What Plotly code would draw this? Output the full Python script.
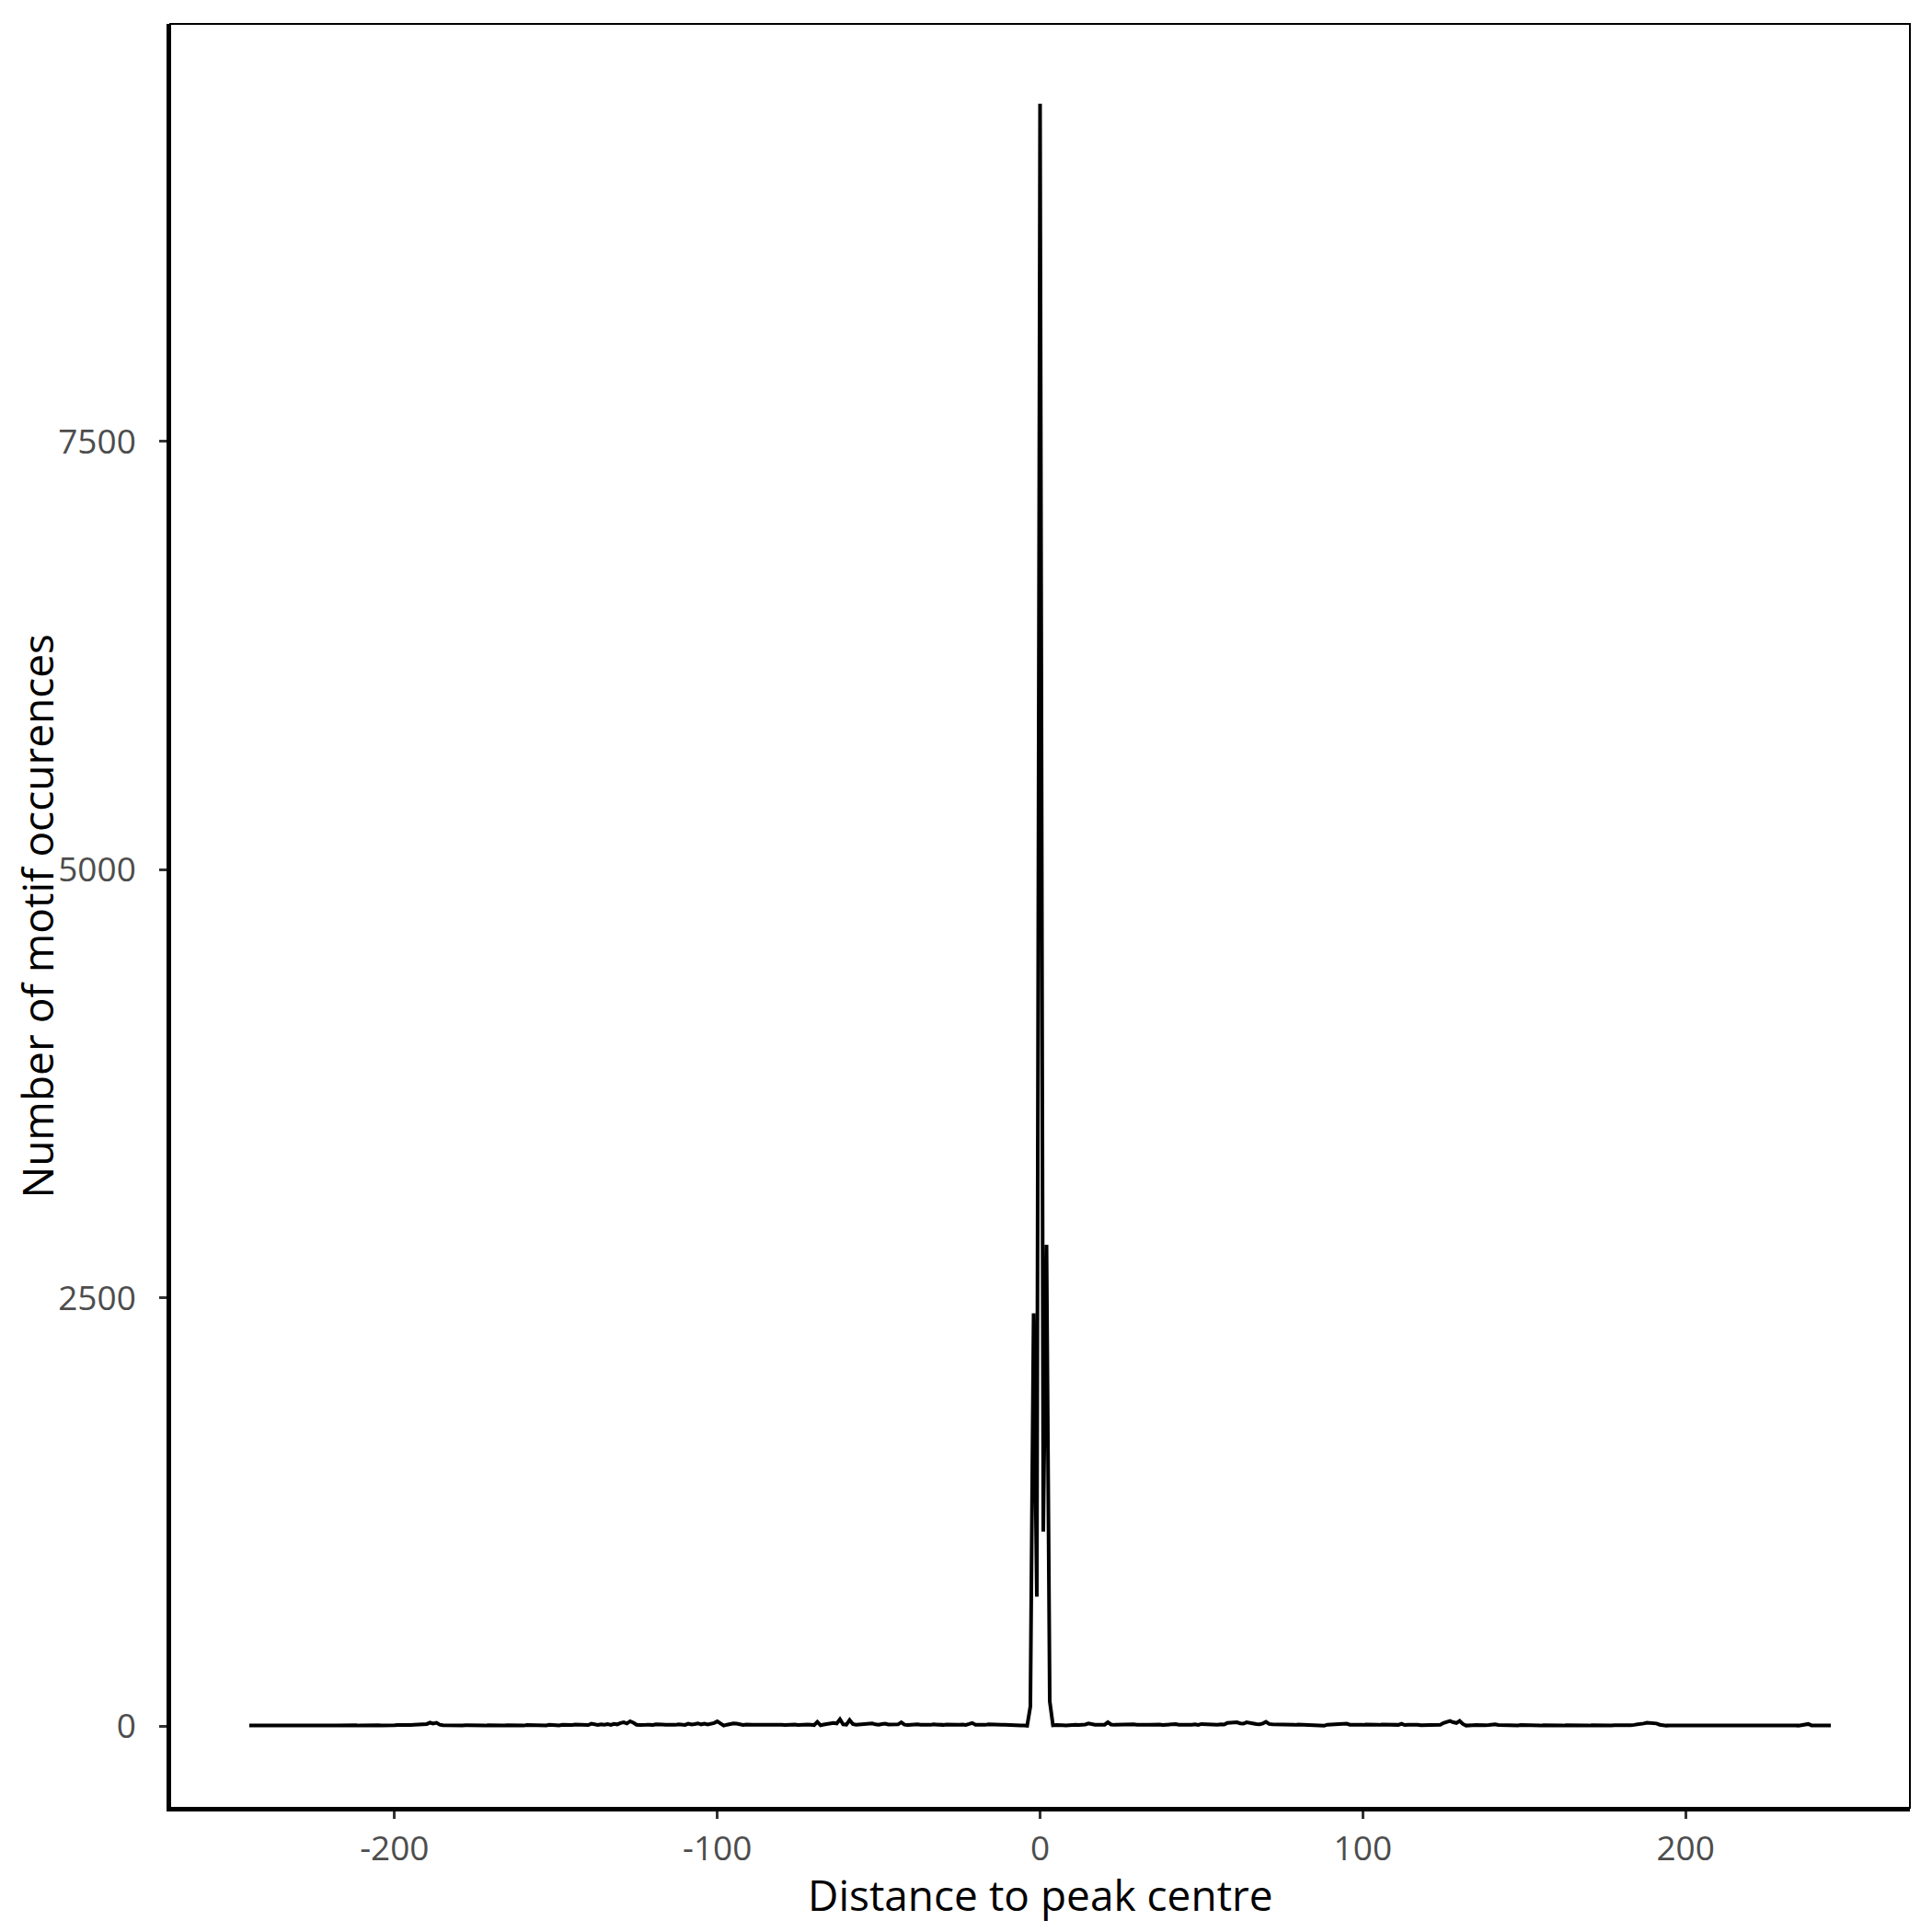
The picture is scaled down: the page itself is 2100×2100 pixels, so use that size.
import plotly.graph_objects as go

# Distance to peak centre (bp)
distance_start = -245
distance_end = 245

# Motif occurrences, left flank: distances -245 .. -6
left_flank = [
    4, 3, 4, 3, 3, 4, 3, 4, 3, 3,
    4, 3, 3, 4, 3, 4, 3, 3, 4, 3,
    4, 3, 4, 3, 3, 4, 3, 4, 5, 3,
    4, 3, 4, 5, 3, 4, 3, 5, 4, 3,
    5, 4, 3, 5, 4, 5, 6, 5, 4, 6,
    6, 7, 8, 7, 9, 12, 20, 15, 19, 8,
    5, 4, 5, 4, 5, 4, 4, 5, 4, 5,
    4, 5, 4, 3, 5, 4, 4, 5, 3, 4,
    5, 4, 6, 4, 5, 3, 6, 5, 4, 6,
    7, 5, 4, 8, 5, 6, 4, 7, 6, 8,
    6, 9, 7, 5, 8, 6, 14, 9, 6, 10,
    8, 12, 7, 13, 10, 18, 22, 15, 28, 20,
    8, 6, 9, 7, 8, 6, 10, 7, 9, 8,
    6, 9, 7, 10, 8, 7, 14, 9, 12, 16,
    10, 14, 9, 12, 18, 27, 12, 3, 8, 12,
    15, 14, 8, 7, 9, 6, 8, 7, 9, 8,
    7, 8, 6, 9, 7, 8, 6, 8, 7, 9,
    6, 8, 7, 9, 8, 6, 25, 5, 9, 12,
    14, 18, 15, 40, 10, 8, 35, 12, 8, 10,
    12, 9, 11, 15, 10, 8, 12, 14, 9, 11,
    13, 10, 22, 8, 6, 9, 7, 10, 8, 6,
    9, 7, 10, 8, 11, 7, 9, 8, 6, 10,
    8, 9, 7, 12, 18, 8, 6, 9, 7, 10,
    8, 6, 9, 7, 8, 6, 7, 5, 4, 3,
]

# Motif occurrences, centre: distances -5 .. 3
centre = [3, 2, 115, 2410, 755, 9470, 1135, 2810, 145]

# Motif occurrences, right flank: distances 4 .. 245
right_flank = [
    4, 6, 3, 5, 4, 7,
    5, 8, 6, 7, 9, 15, 10, 8, 7, 9,
    8, 22, 9, 7, 8, 6, 9, 8, 7, 10,
    8, 6, 9, 7, 8, 10, 7, 9, 6, 8,
    7, 9, 12, 8, 7, 9, 6, 8, 10, 7,
    12, 11, 8, 7, 9, 8, 10, 9, 18, 20,
    19, 22, 16, 14, 22, 18, 13, 12, 11, 15,
    25, 12, 10, 9, 8, 10, 7, 9, 8, 7,
    9, 8, 7, 9, 6, 8, 7, 6, 2, 8,
    9, 7, 10, 9, 12, 14, 8, 7, 9, 8,
    7, 9, 8, 6, 8, 7, 9, 8, 7, 6,
    8, 7, 14, 6, 7, 8, 6, 7, 5, 6,
    7, 5, 6, 8, 8, 18, 24, 30, 22, 18,
    30, 12, 3, 6, 5, 6, 4, 7, 5, 6,
    8, 10, 6, 5, 7, 4, 6, 5, 4, 6,
    5, 4, 6, 5, 4, 3, 5, 4, 6, 4,
    5, 4, 3, 5, 4, 6, 4, 3, 5, 4,
    3, 5, 4, 3, 5, 4, 3, 4, 5, 4,
    3, 5, 6, 5, 7, 8, 12, 15, 20, 18,
    20, 15, 8, 4, 3, 4, 3, 4, 3, 5,
    3, 4, 3, 4, 3, 5, 4, 3, 4, 3,
    4, 3, 5, 4, 3, 4, 3, 4, 5, 3,
    4, 3, 4, 5, 3, 4, 3, 4, 3, 4,
    3, 4, 5, 3, 4, 3, 5, 6, 12, 4,
    3, 4, 3, 4, 3, 3,
]

x_ticks = [-200, -100, 0, 100, 200]
y_ticks = [0, 2500, 5000, 7500]

counts = left_flank + centre + right_flank
distances = list(range(distance_start, distance_end + 1))
assert len(counts) == len(distances), (len(counts), len(distances))

fig = go.Figure()
fig.add_trace(go.Scatter(
    x=distances, y=counts, mode="lines",
    line=dict(color="black", width=4),
    showlegend=False, hoverinfo="x+y",
))

font_family = "Open Sans, Noto Sans, DejaVu Sans, sans-serif"
axis_common = dict(
    showgrid=False, zeroline=False, automargin=False,
    showline=True, linecolor="black", linewidth=3.5,
    ticks="outside", ticklen=8, tickwidth=3, tickcolor="#333333",
    tickfont=dict(family=font_family, size=37, color="#4D4D4D"),
    mirror=False,
)

ML, MR, MT, MB = 177, 32, 18, 143
plot_w = 2100 - ML - MR
plot_h = 2100 - MT - MB

fig.update_layout(
    width=2100, height=2100,
    paper_bgcolor="white", plot_bgcolor="white",
    margin=dict(l=ML, r=MR, t=MT, b=MB),
    font=dict(family=font_family, color="black"),
    xaxis=dict(
        **axis_common,
        range=[-269.5, 269.5],
        tickvals=x_ticks, ticktext=[str(v) for v in x_ticks],
        ticklabelstandoff=1,
    ),
    yaxis=dict(
        **axis_common,
        range=[-477, 9936],
        tickvals=y_ticks, ticktext=[str(v) for v in y_ticks],
        ticklabelstandoff=18,
    ),
    shapes=[dict(type="rect", xref="paper", yref="paper",
                 x0=0, y0=0, x1=1, y1=1,
                 line=dict(color="black", width=2), fillcolor="rgba(0,0,0,0)",
                 layer="above")],
    annotations=[
        dict(text="Distance to peak centre", xref="paper", yref="paper",
             x=0.5, y=-(2051 - (2100 - MB)) / plot_h,
             xanchor="center", yanchor="middle", showarrow=False,
             font=dict(family=font_family, size=46, color="black")),
        dict(text="Number of motif occurences", xref="paper", yref="paper",
             x=-(ML - 31) / plot_w, y=0.5, textangle=-90,
             xanchor="center", yanchor="middle", showarrow=False,
             font=dict(family=font_family, size=46, color="black")),
    ],
)

fig.write_html("out.html")
